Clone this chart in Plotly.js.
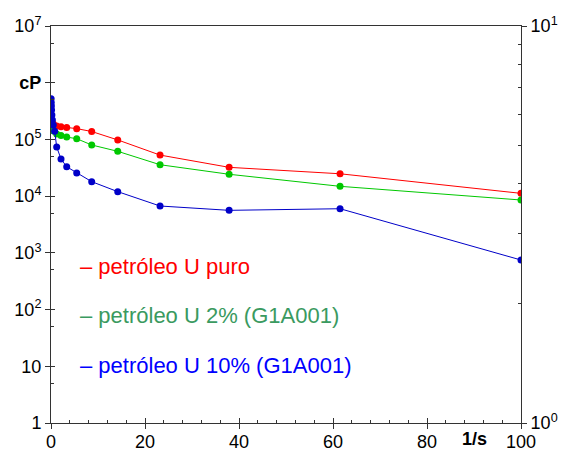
<!DOCTYPE html>
<html>
<head>
<meta charset="utf-8">
<script src="https://cdn.plot.ly/plotly-3.0.1.min.js"></script>
<style>html,body{margin:0;padding:0;background:#fff;}#chart{width:561px;height:451px;}</style>
</head>
<body>
<div id="chart"></div>
<script>
// Shear rate (1/s)
const xRed   = [0.5, 1.21, 2.13, 3.34, 5.47, 8.66, 14.2, 23.2, 37.9, 61.5, 100];
const yRed   = [1.87e5, 1.72e5, 1.67e5, 1.62e5, 1.55e5, 1.38e5, 9.8e4, 5.3e4, 3.22e4, 2.48e4, 1.12e4];
const xGreen = [0.5, 1.21, 2.13, 3.34, 5.47, 8.66, 14.2, 23.2, 37.9, 61.5, 100];
const yGreen = [1.41e5, 1.25e5, 1.17e5, 1.10e5, 1.03e5, 7.98e4, 6.17e4, 3.58e4, 2.43e4, 1.49e4, 8.55e3];
const xBlue  = [0.03, 0.05, 0.08, 0.12, 0.19, 0.3, 0.48, 0.78, 1.21, 2.13, 3.34, 5.47, 8.66, 14.2, 23.2, 37.9, 61.5, 100];
const yBlue  = [5.2e5, 4.5e5, 3.88e5, 3.30e5, 2.70e5, 2.20e5, 1.80e5, 1.40e5, 7.35e4, 4.52e4, 3.30e4, 2.56e4, 1.80e4, 1.20e4, 6.70e3, 5.62e3, 6.00e3, 748];

const seriesNames = ["\u2013 petróleo U puro", "\u2013 petróleo U 2% (G1A001)", "\u2013 petróleo U 10% (G1A001)"];

const leftTickVals  = [1, 10, 100, 1e3, 1e4, 1e5, 1e6, 1e7];
const leftTickText  = ["1", "10", "10<sup>2</sup>", "10<sup>3</sup>", "10<sup>4</sup>", "10<sup>5</sup>", "<b>cP</b>", "10<sup>7</sup>"];
const leftMinorVals = [5, 50, 500, 5e3, 5e4, 5e5, 5e6];
const rightTickVals = [1, 10];
const rightTickText = ["10<sup>0</sup>", "10<sup>1</sup>"];
const rightMinorVals = [2, 3, 4, 5, 6, 7, 8, 9];
const xTickVals = [0, 20, 40, 60, 80, 100];
const xTickText = ["0", "20", "40", "60", "80", "100"];
const xMinorVals = [4, 8, 12, 16, 24, 28, 32, 36, 44, 48, 52, 56, 64, 68, 72, 76, 84, 88, 92, 96];
const xUnitLabel = "1/s";

const FONT = "Liberation Sans, Arial, Helvetica, sans-serif";
const AX = "#333333";

function trace(x, y, color) {
  return {x: x, y: y, type: "scatter", mode: "lines+markers", xaxis: "x", yaxis: "y",
    line: {color: color, width: 1}, marker: {color: color, size: 7}, showlegend: false, hoverinfo: "skip"};
}

const data = [
  trace(xRed, yRed, "#ff0000"),
  trace(xGreen, yGreen, "#00c800"),
  trace(xBlue, yBlue, "#0000c8"),
  {x: [], y: [], type: "scatter", mode: "lines", xaxis: "x", yaxis: "y2", showlegend: false},
  {x: [], y: [], type: "scatter", mode: "lines", xaxis: "x2", yaxis: "y3", showlegend: false}
];

const legendColors = ["#ff0000", "#3a9a60", "#0000ff"];
const legendY = [0.395, 0.270, 0.144];

const annotations = seriesNames.map((t, i) => ({
  text: t, xref: "paper", yref: "paper", x: 0.058, y: legendY[i], xanchor: "left", yanchor: "middle",
  showarrow: false, font: {family: FONT, size: 22, color: legendColors[i]}
}));
annotations.push({text: "<b>" + xUnitLabel + "</b>", xref: "x", yref: "paper", x: 90, y: 0,
  xanchor: "center", yanchor: "top", yshift: -4, showarrow: false, font: {family: FONT, size: 18, color: "#000"}});

const layout = {
  width: 561, height: 451,
  margin: {l: 51, r: 40, t: 26, b: 28, pad: 0},
  paper_bgcolor: "#fff", plot_bgcolor: "#fff",
  font: {family: FONT, size: 18, color: "#000"},
  showlegend: false,
  xaxis: {range: [0, 100], tickmode: "array", tickvals: xTickVals, ticktext: xTickText,
    ticks: "outside", ticklen: 5, tickcolor: AX, tickwidth: 1, ticklabelstandoff: -3,
    showline: true, linecolor: AX, linewidth: 1, mirror: true, showgrid: false, zeroline: false,
    tickfont: {family: FONT, size: 18}},
  xaxis2: {overlaying: "x", range: [0, 100], tickmode: "array", tickvals: xTickVals,
    showticklabels: false, ticks: "inside", ticklen: 5, tickcolor: AX, tickwidth: 1,
    showline: false, showgrid: false, zeroline: false,
    minor: {tickmode: "array", tickvals: xMinorVals, ticks: "inside", ticklen: 3, tickcolor: AX, showgrid: false}},
  yaxis: {type: "log", range: [0, 7], tickmode: "array", tickvals: leftTickVals, ticktext: leftTickText,
    ticks: "outside", ticklen: 5, tickcolor: AX, tickwidth: 1, side: "left",
    showline: true, linecolor: AX, linewidth: 1, showgrid: false, zeroline: false,
    tickfont: {family: FONT, size: 18}},
  yaxis3: {type: "log", range: [0, 7], overlaying: "y", anchor: "x2", side: "left", tickmode: "array", tickvals: leftTickVals,
    showticklabels: false, ticks: "inside", ticklen: 4, tickcolor: AX, tickwidth: 1,
    showline: false, showgrid: false, zeroline: false,
    minor: {tickmode: "array", tickvals: leftMinorVals, ticks: "inside", ticklen: 3, tickcolor: AX, showgrid: false}},
  yaxis2: {type: "log", range: [0, 1], overlaying: "y", side: "right", anchor: "x", tickmode: "array",
    tickvals: rightTickVals, ticktext: rightTickText,
    ticks: "outside", ticklen: 5, tickcolor: AX, tickwidth: 1,
    showline: true, linecolor: AX, linewidth: 1, showgrid: false, zeroline: false,
    tickfont: {family: FONT, size: 18},
    minor: {tickmode: "array", tickvals: rightMinorVals, ticks: "inside", ticklen: 3, tickcolor: AX, showgrid: false}},
  annotations: annotations
};

Plotly.newPlot("chart", data, layout, {displayModeBar: false, staticPlot: true});
</script>
</body>
</html>
